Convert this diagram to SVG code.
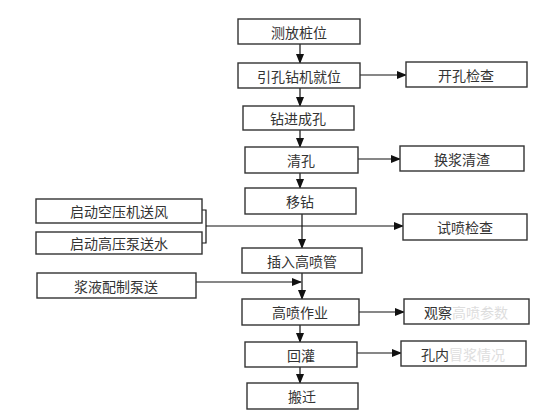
<svg xmlns="http://www.w3.org/2000/svg" width="560" height="420" viewBox="0 0 560 420">
<defs>
<marker id="ah" markerWidth="10" markerHeight="8" refX="9" refY="4" orient="auto" markerUnits="userSpaceOnUse">
<path d="M0,0 L10,4 L0,8 Z" fill="#111"/>
</marker>
</defs>
<style>
.box{fill:#fff;stroke:#333;stroke-width:1.4}
.t{font-family:"Noto Sans CJK SC","Noto Sans",sans-serif;font-size:14px;fill:#333;text-anchor:middle;dominant-baseline:central}
.f{fill:#ddd}
.c{fill:none;stroke:#111;stroke-width:1.2}
.a{marker-end:url(#ah)}
</style>
<rect width="560" height="420" fill="#fff"/>
<g id="connectors">
<line class="c a" x1="300" y1="44" x2="300" y2="63"/>
<line class="c a" x1="300" y1="88" x2="300" y2="106"/>
<line class="c a" x1="300" y1="130" x2="300" y2="147"/>
<line class="c a" x1="300" y1="173" x2="300" y2="188"/>
<line class="c a" x1="302" y1="214" x2="302" y2="248"/>
<line class="c a" x1="302" y1="273" x2="302" y2="299"/>
<line class="c a" x1="300" y1="325" x2="300" y2="342"/>
<line class="c a" x1="300" y1="367" x2="300" y2="383"/>
<line class="c a" x1="360" y1="75" x2="406" y2="75"/>
<line class="c a" x1="358" y1="159" x2="400" y2="159"/>
<line class="c a" x1="359" y1="312" x2="404" y2="312"/>
<line class="c a" x1="357" y1="353" x2="401" y2="353"/>
<polyline class="c" points="202,210 206,210 206,243 202,243"/>
<line class="c a" x1="206" y1="226" x2="403" y2="226"/>
<line class="c a" x1="196" y1="282" x2="301" y2="282"/>
</g>
<g id="n1"><rect class="box" x="238" y="19" width="122" height="25"/><text class="t" x="299" y="31.5">测放桩位</text></g>
<g id="n2"><rect class="box" x="238" y="63" width="122" height="25"/><text class="t" x="299" y="75.5">引孔钻机就位</text></g>
<g id="n3"><rect class="box" x="406" y="62" width="121" height="25"/><text class="t" x="466" y="74.5">开孔检查</text></g>
<g id="n4"><rect class="box" x="243" y="106" width="111" height="24"/><text class="t" x="298" y="118">钻进成孔</text></g>
<g id="n5"><rect class="box" x="245" y="147" width="113" height="26"/><text class="t" x="301" y="160">清孔</text></g>
<g id="n6"><rect class="box" x="400" y="146" width="124" height="25"/><text class="t" x="462" y="158.5">换浆清渣</text></g>
<g id="n7"><rect class="box" x="245" y="188" width="111" height="26"/><text class="t" x="300" y="201">移钻</text></g>
<g id="n8"><rect class="box" x="403" y="214" width="124" height="26"/><text class="t" x="465" y="227">试喷检查</text></g>
<g id="n9"><rect class="box" x="36" y="199" width="166" height="24"/><text class="t" x="119" y="211">启动空压机送风</text></g>
<g id="n10"><rect class="box" x="36" y="232" width="166" height="22"/><text class="t" x="119" y="243">启动高压泵送水</text></g>
<g id="n11"><rect class="box" x="242" y="248" width="120" height="25"/><text class="t" x="302" y="260.5">插入高喷管</text></g>
<g id="n12"><rect class="box" x="37" y="273" width="159" height="25"/><text class="t" x="116" y="285.5">浆液配制泵送</text></g>
<g id="n13"><rect class="box" x="242" y="299" width="117" height="26"/><text class="t" x="300" y="312">高喷作业</text></g>
<g id="n14"><rect class="box" x="404" y="299" width="125" height="25"/><text class="t" x="466" y="311.5">观察<tspan class="f">高喷参数</tspan></text></g>
<g id="n15"><rect class="box" x="245" y="342" width="112" height="25"/><text class="t" x="301" y="354.5">回灌</text></g>
<g id="n16"><rect class="box" x="401" y="341" width="125" height="25"/><text class="t" x="463" y="353.5">孔内<tspan class="f">冒浆情况</tspan></text></g>
<g id="n17"><rect class="box" x="247" y="383" width="111" height="26"/><text class="t" x="302" y="396">搬迁</text></g>
</svg>
